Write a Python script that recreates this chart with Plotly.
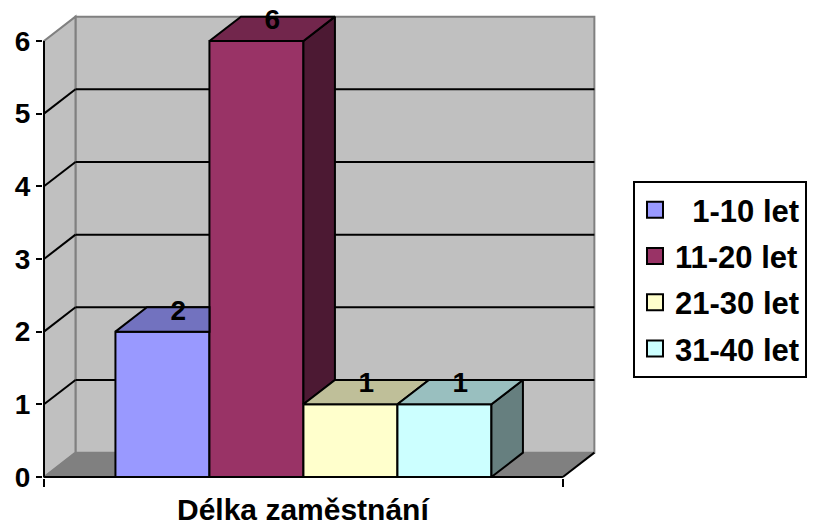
import plotly.graph_objects as go

# ---- data ----
CATEGORIES = ["1-10 let", "11-20 let", "21-30 let", "31-40 let"]
VALUES = [2, 6, 1, 1]
Y_TICKS = [0, 1, 2, 3, 4, 5, 6]
AXIS_TITLE = "Délka zaměstnání"
COLORS = ["#9999FF", "#993366", "#FFFFCC", "#CCFFFF"]

# ---- style / geometry ----
FONT = "Liberation Sans, Arial, sans-serif"
DX, DY = 0.335, 0.335         # pseudo-3D depth offset (axis units)
GAP = 0.76                    # space between floor edge and outer bars
WALL = "#C0C0C0"
FLOOR = "#808080"
EDGE = "#808080"

# the page body has an 8px margin, so the figure is 8px smaller and offset
PAGE_OFF = 8
FIG_W, FIG_H = 818 - PAGE_OFF, 526 - PAGE_OFF


def shade(hex_color, f):
    h = hex_color.lstrip("#")
    r, g, b = (int(h[i:i + 2], 16) for i in (0, 2, 4))
    return "#{:02X}{:02X}{:02X}".format(int(r * f), int(g * f), int(b * f))


N = len(VALUES)
XPOS = list(range(N))
YMAX = Y_TICKS[-1]
XL = -0.5 - GAP
XR = N - 0.5 + GAP

# plot area in page pixels: left 43, right 600, top 8, bottom 478
PL, PR, PT, PB = 43, 600, 8, 478
PX_UNIT_X = 94.0
PX_UNIT_Y = 72.67
X_RANGE = [XL - 1 / PX_UNIT_X, XL + (PR - 44) / PX_UNIT_X]
Y_RANGE = [-(PB - 477) / PX_UNIT_Y, (477 - PT) / PX_UNIT_Y]


def poly(pts):
    return "M " + " L ".join(f"{x},{y}" for x, y in pts) + " Z"


shapes = []
# back wall
shapes.append(dict(type="rect", xref="x", yref="y", x0=XL + DX, x1=XR + DX, y0=DY, y1=YMAX + DY,
                   fillcolor=WALL, line=dict(color=EDGE, width=2), layer="below"))
# left wall
shapes.append(dict(type="path", xref="x", yref="y",
                   path=poly([(XL, 0), (XL, YMAX), (XL + DX, YMAX + DY), (XL + DX, DY)]),
                   fillcolor=WALL, line=dict(color=EDGE, width=2), layer="below"))
# floor
shapes.append(dict(type="path", xref="x", yref="y",
                   path=poly([(XL, 0), (XR, 0), (XR + DX, DY), (XL + DX, DY)]),
                   fillcolor=FLOOR, line=dict(color=EDGE, width=1), layer="below"))
# gridlines on back and left walls
for t in Y_TICKS[1:-1]:
    shapes.append(dict(type="line", xref="x", yref="y", x0=XL + DX, x1=XR + DX, y0=t + DY, y1=t + DY,
                       line=dict(color="black", width=2), layer="below"))
    shapes.append(dict(type="line", xref="x", yref="y", x0=XL, x1=XL + DX, y0=t, y1=t + DY,
                       line=dict(color="black", width=2), layer="below"))
# front axis lines
shapes.append(dict(type="line", xref="x", yref="y", x0=XL, x1=XR, y0=0, y1=0,
                   line=dict(color="black", width=2), layer="below"))
shapes.append(dict(type="line", xref="x", yref="y", x0=XR, x1=XR + DX, y0=0, y1=DY,
                   line=dict(color="black", width=2), layer="below"))
shapes.append(dict(type="line", xref="x", yref="y", x0=XL, x1=XL, y0=0, y1=YMAX,
                   line=dict(color="black", width=2), layer="below"))

fig = go.Figure()

# front faces
fig.add_trace(go.Bar(x=XPOS, y=VALUES, width=1, base=0,
                     marker=dict(color=COLORS, line=dict(color="black", width=2)),
                     showlegend=False, hoverinfo="skip"))

# side and top faces (only the visible parts)
for i, (x, v, c) in enumerate(zip(XPOS, VALUES, COLORS)):
    L, R = x - 0.5, x + 0.5
    nxt = VALUES[i + 1] if i + 1 < N else 0
    base = min(nxt, v)
    if v > base:
        pts = [(R, base), (R, v), (R + DX, v + DY), (R + DX, base + DY), (R, base)]
        fig.add_trace(go.Scatter(x=[p[0] for p in pts], y=[p[1] for p in pts], mode="lines",
                                 fill="toself", fillcolor=shade(c, 0.5),
                                 line=dict(color="black", width=2), showlegend=False, hoverinfo="skip"))
    if nxt > v:
        pts = [(L, v), (R, v), (R, v + DY), (L + DX, v + DY), (L, v)]
    else:
        pts = [(L, v), (R, v), (R + DX, v + DY), (L + DX, v + DY), (L, v)]
    fig.add_trace(go.Scatter(x=[p[0] for p in pts], y=[p[1] for p in pts], mode="lines",
                             fill="toself", fillcolor=shade(c, 0.75),
                             line=dict(color="black", width=2), showlegend=False, hoverinfo="skip"))

# data labels
fig.add_trace(go.Scatter(x=[x + DX / 2 for x in XPOS], y=[v + DY * 0.78 for v in VALUES],
                         mode="text", text=[str(v) for v in VALUES], textposition="middle center",
                         textfont=dict(family=FONT, size=28, color="black", weight="bold"),
                         cliponaxis=False, showlegend=False, hoverinfo="skip"))

# legend proxies
maxlen = max(len(c) for c in CATEGORIES)
for name, c in zip(CATEGORIES, COLORS):
    label = "\u00a0\u00a0" * (maxlen - len(name)) + name
    fig.add_trace(go.Scatter(x=[None], y=[None], mode="markers", name=label, legendgroup=name,
                             marker=dict(symbol="square", size=20, color=c,
                                         line=dict(color="black", width=2))))

plot_w = PR - PL
plot_h = PB - PT
fig.update_layout(
    width=FIG_W, height=FIG_H,
    margin=dict(l=PL - PAGE_OFF, r=FIG_W - (PR - PAGE_OFF), t=PT - PAGE_OFF,
                b=FIG_H - (PB - PAGE_OFF), autoexpand=False),
    paper_bgcolor="white", plot_bgcolor="white",
    shapes=shapes,
    showlegend=True,
    legend=dict(x=(633 - PL) / plot_w, y=(PB - 181) / plot_h, xanchor="left", yanchor="top",
                bordercolor="black", borderwidth=2, bgcolor="white",
                font=dict(family=FONT, size=31, color="black", weight="bold"),
                tracegroupgap=3),
    xaxis=dict(range=X_RANGE, tickvals=[XL, XR], ticktext=["", ""], ticks="outside",
               ticklen=8, tickwidth=2, tickcolor="black", showgrid=False, zeroline=False,
               showline=False, fixedrange=True),
    yaxis=dict(range=Y_RANGE, tickvals=Y_TICKS, ticks="outside", ticklen=6, tickwidth=2,
               tickcolor="black", showgrid=False, zeroline=False, showline=False,
               ticklabelstandoff=0,
               tickfont=dict(family=FONT, size=28, color="black", weight="bold")),
    annotations=[dict(x=(XL + XR) / 2, xref="x", y=0, yref="paper", yanchor="top",
                      yshift=-13, text=AXIS_TITLE, showarrow=False,
                      font=dict(family=FONT, size=30, color="black", weight="bold"))],
)

fig.write_html("out.html")
